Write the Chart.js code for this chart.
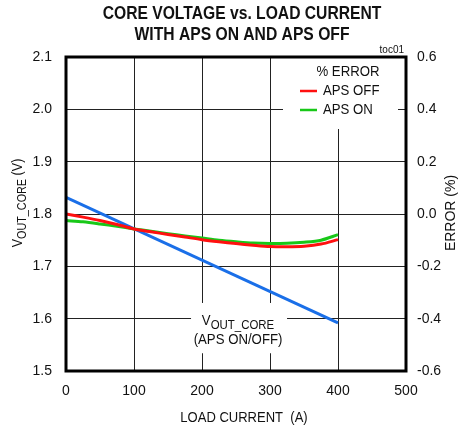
<!DOCTYPE html>
<html>
<head>
<meta charset="utf-8">
<script src="https://cdn.jsdelivr.net/npm/chart.js@4"></script>
<style>
html,body{margin:0;padding:0;background:#fff;}
#wrap{width:464px;height:434px;}
</style>
</head>
<body>
<div id="wrap"><canvas id="c" width="464" height="434"></canvas></div>
<script>
// ---- data ----
const loadCurrent = [0,25,50,75,100,125,150,175,200,225,250,275,300,325,350,375,400];
const errApsOff = [0.0,-0.012,-0.025,-0.040,-0.057,-0.068,-0.078,-0.088,-0.098,-0.106,-0.113,-0.119,-0.124,-0.125,-0.123,-0.115,-0.098];
const errApsOn  = [-0.025,-0.030,-0.038,-0.047,-0.057,-0.066,-0.075,-0.084,-0.092,-0.100,-0.106,-0.111,-0.113,-0.112,-0.108,-0.100,-0.079];
const vCoreCurrent = [0,400];
const vCore = [1.832,1.592];
const xTicks = [0,100,200,300,400,500];
const leftTicks = [1.5,1.6,1.7,1.8,1.9,2.0,2.1];
const rightTicks = [-0.6,-0.4,-0.2,0.0,0.2,0.4,0.6];
const titleLines = ['CORE VOLTAGE vs. LOAD CURRENT','WITH APS ON AND APS OFF'];
const legendTitle = '% ERROR';
const seriesLabels = ['APS OFF','APS ON','VOUT_CORE'];

const FONT = "'Liberation Sans',Arial,sans-serif";

function pts(xs, ys){ return xs.map((x,i)=>({x:x,y:ys[i]})); }

// draw text horizontally condensed by factor k, anchored at x
function textK(ctx, str, x, y, k, align){
  ctx.save();
  ctx.translate(x, y); ctx.scale(k, 1);
  ctx.textAlign = align; ctx.fillText(str, 0, 0);
  ctx.restore();
}

function drawSub(ctx, x, y, main, sub, tail, size, k){
  const fm = size + 'px ' + FONT, fs = Math.round(size*0.86) + 'px ' + FONT;
  ctx.font = fm; const wm = ctx.measureText(main).width;
  const wt = tail ? ctx.measureText(tail).width : 0;
  ctx.font = fs; const ws = ctx.measureText(sub).width;
  const total = wm + ws + wt;
  ctx.save();
  ctx.translate(x, y); ctx.scale(k, 1);
  const sx = -total/2;
  ctx.textAlign = 'left'; ctx.textBaseline = 'alphabetic';
  ctx.font = fm; ctx.fillText(main, sx, 0);
  ctx.font = fs; ctx.fillText(sub, sx + wm, size*0.28);
  if (tail){ ctx.font = fm; ctx.fillText(tail, sx + wm + ws, 0); }
  ctx.restore();
}

const decor = {
  id:'decor',
  beforeDatasetsDraw(chart){
    const ctx = chart.ctx, ca = chart.chartArea;
    const xs = chart.scales.x, yl = chart.scales.y;
    ctx.save();
    ctx.fillStyle = '#fff';
    // legend box
    ctx.fillRect(ca.right - 123, ca.top, 115, 72);
    // annotation box
    const ax = xs.getPixelForValue(253);
    ctx.fillRect(ax - 47, yl.getPixelForValue(1.63), 96, 14);
    ctx.fillRect(ax - 47, yl.getPixelForValue(1.618), 96, 44);
    ctx.restore();
  },
  afterDatasetsDraw(chart){
    const ctx = chart.ctx, ca = chart.chartArea;
    const xs = chart.scales.x, yl = chart.scales.y;
    ctx.save();
    ctx.fillStyle = '#111';
    // legend
    ctx.font = '15px ' + FONT; ctx.textBaseline = 'middle';
    textK(ctx, legendTitle, ca.right - 58, ca.top + 15, 0.88, 'center');
    const ds = chart.data.datasets;
    [0,1].forEach(i=>{
      const yy = ca.top + 34 + i*19;
      ctx.strokeStyle = ds[i].borderColor; ctx.lineWidth = 2.5;
      ctx.beginPath(); ctx.moveTo(ca.right - 106, yy); ctx.lineTo(ca.right - 89, yy); ctx.stroke();
      textK(ctx, ds[i].label, ca.right - 83, yy, 0.88, 'left');
    });
    // annotation
    const ax = xs.getPixelForValue(253);
    drawSub(ctx, ax, yl.getPixelForValue(1.6) + 6, 'V', 'OUT_CORE', '', 15, 0.88);
    ctx.font = '15px ' + FONT; ctx.textBaseline = 'middle';
    textK(ctx, '(APS ON/OFF)', ax, yl.getPixelForValue(1.559), 0.88, 'center');
    // frame
    ctx.strokeStyle = '#000'; ctx.lineWidth = 3;
    ctx.strokeRect(ca.left, ca.top, ca.right - ca.left, ca.bottom - ca.top);
    ctx.restore();
  },
  afterDraw(chart){
    const ctx = chart.ctx, ca = chart.chartArea;
    ctx.save();
    ctx.fillStyle = '#111';
    // title
    ctx.font = 'bold 18px ' + FONT; ctx.textBaseline = 'middle';
    textK(ctx, titleLines[0], 242, 14, 0.87, 'center');
    textK(ctx, titleLines[1], 242, 35, 0.87, 'center');
    // toc01
    ctx.font = '10px ' + FONT; ctx.textBaseline = 'alphabetic';
    textK(ctx, 'toc01', ca.right - 2, 53, 1, 'right');
    // x title
    ctx.font = '14px ' + FONT; ctx.textBaseline = 'middle';
    textK(ctx, 'LOAD CURRENT  (A)', 244, 418, 0.93, 'center');
    // right title
    ctx.save(); ctx.translate(451, 213); ctx.rotate(-Math.PI/2);
    textK(ctx, 'ERROR (%)', 0, 0, 1, 'center');
    ctx.restore();
    // left title
    ctx.save(); ctx.translate(22, 203); ctx.rotate(-Math.PI/2);
    drawSub(ctx, 0, 0, 'V', 'OUT_CORE', ' (V)', 14, 0.9);
    ctx.restore();
    ctx.restore();
  }
};

const tickFont = {family: FONT, size: 14};

new Chart(document.getElementById('c'), {
  type: 'line',
  data: {
    datasets: [
      {label: seriesLabels[0], data: pts(loadCurrent, errApsOff), yAxisID: 'y1', borderColor: '#ff1010', borderWidth: 3, pointRadius: 0, tension: 0.3, fill: false},
      {label: seriesLabels[1], data: pts(loadCurrent, errApsOn), yAxisID: 'y1', borderColor: '#18c818', borderWidth: 3, pointRadius: 0, tension: 0.3, fill: false},
      {label: seriesLabels[2], data: pts(vCoreCurrent, vCore), yAxisID: 'y', borderColor: '#1a6fe8', borderWidth: 3, pointRadius: 0, tension: 0, fill: false}
    ]
  },
  options: {
    responsive: false,
    animation: false,
    events: [],
    layout: {padding: {top: 57, left: 0, right: 0, bottom: 0}},
    plugins: {legend: {display: false}, title: {display: false}, tooltip: {enabled: false}},
    scales: {
      x: {
        type: 'linear', min: 0, max: 500,
        afterBuildTicks(s){ s.ticks = xTicks.map(v=>({value:v})); },
        afterFit(s){ s.height = 63; },
        grid: {color: '#222', lineWidth: 1, drawTicks: false},
        border: {display: false},
        ticks: {font: tickFont, color: '#111', padding: 12, maxRotation: 0, callback: v => String(v)}
      },
      y: {
        type: 'linear', position: 'left', min: 1.5, max: 2.1,
        afterBuildTicks(s){ s.ticks = leftTicks.map(v=>({value:v})); },
        afterFit(s){ s.width = 66; },
        grid: {color: '#222', lineWidth: 1, drawTicks: false},
        border: {display: false},
        ticks: {font: tickFont, color: '#111', padding: 14, callback: v => Number(v).toFixed(1)}
      },
      y1: {
        type: 'linear', position: 'right', min: -0.6, max: 0.6,
        afterBuildTicks(s){ s.ticks = rightTicks.map(v=>({value:v})); },
        afterFit(s){ s.width = 58; },
        grid: {display: false, drawTicks: false},
        border: {display: false},
        ticks: {font: tickFont, color: '#111', padding: 11, callback: v => (Math.abs(v) < 1e-9 ? 0 : Number(v)).toFixed(1)}
      }
    }
  },
  plugins: [decor]
});
</script>
</body>
</html>
